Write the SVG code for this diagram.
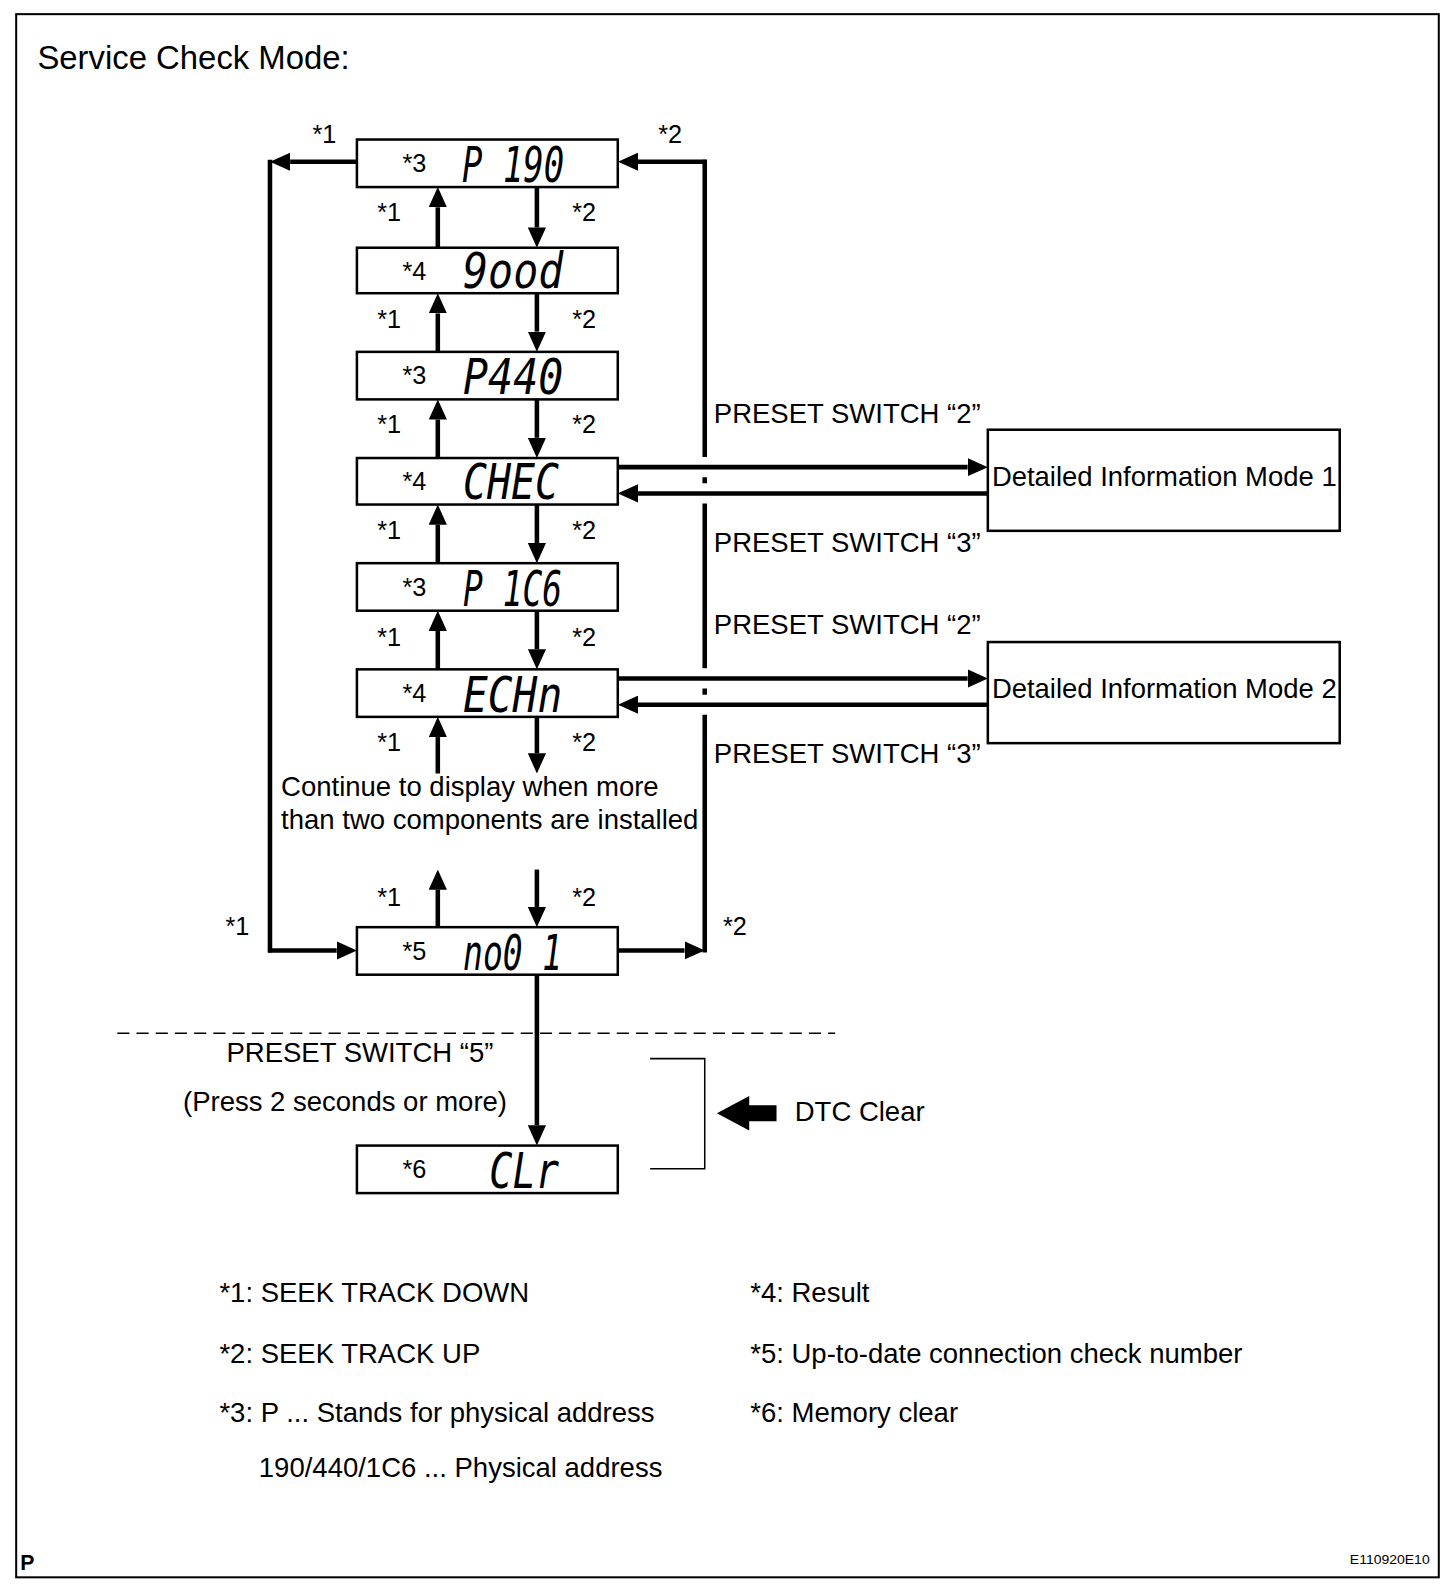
<svg xmlns="http://www.w3.org/2000/svg" width="1456" height="1584" viewBox="0 0 1456 1584">
<style>
text{font-family:"Liberation Sans",Arial,sans-serif;fill:#000}
.t{font-size:27.2px}
.s{font-size:25px}
.lcd{font-family:"DejaVu Sans Mono","Liberation Mono",monospace;font-style:oblique;font-size:50px}
.box{fill:#fff;stroke:#000;stroke-width:2.5}
.ln{stroke:#000;stroke-width:4.5;fill:none}
.arr{stroke:#000;stroke-width:4.5;fill:none;marker-end:url(#ah)}
.thin{stroke:#000;stroke-width:1.5;fill:none}
</style>
<defs>
<marker id="ah" markerUnits="userSpaceOnUse" markerWidth="20" markerHeight="18" refX="0" refY="9" orient="auto">
<path d="M0,0 L20,9 L0,18 z" fill="#000"/>
</marker>
</defs>
<rect x="0" y="0" width="1456" height="1584" fill="#fff"/>
<g transform="scale(1.0111)">
<rect x="16" y="14" width="1407" height="1546" fill="none" stroke="#000" stroke-width="2"/>
<text x="37" y="68" style="font-size:32.5px">Service Check Mode:</text>

<g id="connectors">
<line class="arr" x1="433" y1="245" x2="433" y2="205"/>
<line class="arr" x1="531" y1="185" x2="531" y2="225"/>
<line class="arr" x1="433" y1="348" x2="433" y2="310"/>
<line class="arr" x1="531" y1="290" x2="531" y2="328"/>
<line class="arr" x1="433" y1="453" x2="433" y2="415"/>
<line class="arr" x1="531" y1="395" x2="531" y2="433"/>
<line class="arr" x1="433" y1="557" x2="433" y2="519"/>
<line class="arr" x1="531" y1="499" x2="531" y2="537"/>
<line class="arr" x1="433" y1="662" x2="433" y2="624"/>
<line class="arr" x1="531" y1="604" x2="531" y2="642"/>
<line class="arr" x1="433" y1="765" x2="433" y2="729"/>
<line class="arr" x1="531" y1="709" x2="531" y2="745"/>
<line class="arr" x1="433" y1="917" x2="433" y2="880"/>
<line class="arr" x1="531" y1="860" x2="531" y2="897"/>
<line class="arr" x1="531" y1="964" x2="531" y2="1113"/>
<line class="ln" x1="267" y1="158" x2="267" y2="942"/>
<line class="arr" x1="353" y1="160" x2="287" y2="160"/>
<line class="arr" x1="265" y1="940" x2="333" y2="940"/>
<path class="ln" d="M697,158 V452 M697,472 V478 M697,498 V661 M697,681 V687 M697,707 V942"/>
<line class="arr" x1="699" y1="160" x2="631" y2="160"/>
<line class="arr" x1="611" y1="940" x2="677" y2="940"/>
<line class="arr" x1="611" y1="462" x2="957" y2="462"/>
<line class="arr" x1="977" y1="488" x2="631" y2="488"/>
<line class="arr" x1="611" y1="671" x2="957" y2="671"/>
<line class="arr" x1="977" y1="697" x2="631" y2="697"/>
</g>

<g id="n1"><rect class="box" x="353" y="138" width="258" height="47"/><text class="s" x="398" y="170">*3</text><text class="lcd" x="457" y="180" textLength="101" lengthAdjust="spacingAndGlyphs">P 190</text></g>
<g id="n2"><rect class="box" x="353" y="245" width="258" height="45"/><text class="s" x="398" y="277">*4</text><text class="lcd" x="458" y="285" textLength="99" lengthAdjust="spacingAndGlyphs">9ood</text></g>
<g id="n3"><rect class="box" x="353" y="348" width="258" height="47"/><text class="s" x="398" y="380">*3</text><text class="lcd" x="458" y="390" textLength="99" lengthAdjust="spacingAndGlyphs">P440</text></g>
<g id="n4"><rect class="box" x="353" y="453" width="258" height="46"/><text class="s" x="398" y="485">*4</text><text class="lcd" x="458" y="494" textLength="95" lengthAdjust="spacingAndGlyphs">CHEC</text></g>
<g id="n5"><rect class="box" x="353" y="557" width="258" height="47"/><text class="s" x="398" y="589">*3</text><text class="lcd" x="458" y="599" textLength="98" lengthAdjust="spacingAndGlyphs">P 1C6</text></g>
<g id="n6"><rect class="box" x="353" y="662" width="258" height="47"/><text class="s" x="398" y="694">*4</text><text class="lcd" x="458" y="704" textLength="98" lengthAdjust="spacingAndGlyphs">ECHn</text></g>
<g id="n7"><rect class="box" x="353" y="917" width="258" height="47"/><text class="s" x="398" y="949">*5</text><text class="lcd" x="458" y="959" textLength="98" lengthAdjust="spacingAndGlyphs">no0 1</text></g>
<g id="n8"><rect class="box" x="353" y="1133" width="258" height="47"/><text class="s" x="398" y="1165">*6</text><text class="lcd" x="484" y="1175" textLength="69" lengthAdjust="spacingAndGlyphs">CLr</text></g>

<g id="d1"><rect class="box" x="977" y="425" width="348" height="100"/><text class="t" x="981" y="481" textLength="341" lengthAdjust="spacingAndGlyphs">Detailed Information Mode 1</text></g>
<g id="d2"><rect class="box" x="977" y="635" width="348" height="100"/><text class="t" x="981" y="690" textLength="341" lengthAdjust="spacingAndGlyphs">Detailed Information Mode 2</text></g>

<g id="labels">
<text class="s" x="309" y="141">*1</text>
<text class="s" x="651" y="141">*2</text>
<text class="s" x="223" y="925">*1</text>
<text class="s" x="715" y="925">*2</text>
<text class="s" x="373" y="219">*1</text><text class="s" x="566" y="219">*2</text>
<text class="s" x="373" y="324">*1</text><text class="s" x="566" y="324">*2</text>
<text class="s" x="373" y="428">*1</text><text class="s" x="566" y="428">*2</text>
<text class="s" x="373" y="533">*1</text><text class="s" x="566" y="533">*2</text>
<text class="s" x="373" y="639">*1</text><text class="s" x="566" y="639">*2</text>
<text class="s" x="373" y="743">*1</text><text class="s" x="566" y="743">*2</text>
<text class="s" x="373" y="896">*1</text><text class="s" x="566" y="896">*2</text>
<text class="t" x="706" y="418">PRESET SWITCH “2”</text>
<text class="t" x="706" y="546">PRESET SWITCH “3”</text>
<text class="t" x="706" y="627">PRESET SWITCH “2”</text>
<text class="t" x="706" y="755">PRESET SWITCH “3”</text>
<text class="t" x="278" y="787">Continue to display when more</text>
<text class="t" x="278" y="820">than two components are installed</text>
<text class="t" x="224" y="1050">PRESET SWITCH “5”</text>
<text class="t" x="181" y="1099">(Press 2 seconds or more)</text>
<text class="t" x="786" y="1109">DTC Clear</text>
</g>

<line x1="116" y1="1022" x2="826" y2="1022" stroke="#000" stroke-width="1.5" stroke-dasharray="12,7"/>
<path class="thin" d="M643,1047 H697 V1156 H643"/>
<polygon points="709,1101 741,1084 741,1093 768,1093 768,1109 741,1109 741,1118" fill="#000"/>

<g id="legend">
<text class="t" x="217" y="1288">*1: SEEK TRACK DOWN</text>
<text class="t" x="217" y="1348">*2: SEEK TRACK UP</text>
<text class="t" x="217" y="1406">*3: P ... Stands for physical address</text>
<text class="t" x="256" y="1461">190/440/1C6 ... Physical address</text>
<text class="t" x="742" y="1288">*4: Result</text>
<text class="t" x="742" y="1348">*5: Up-to-date connection check number</text>
<text class="t" x="742" y="1406">*6: Memory clear</text>
</g>
<text x="20" y="1553" style="font-size:21px;font-weight:bold">P</text>
<text x="1335" y="1547" style="font-size:13px" textLength="79" lengthAdjust="spacingAndGlyphs">E110920E10</text>
</g>
</svg>
